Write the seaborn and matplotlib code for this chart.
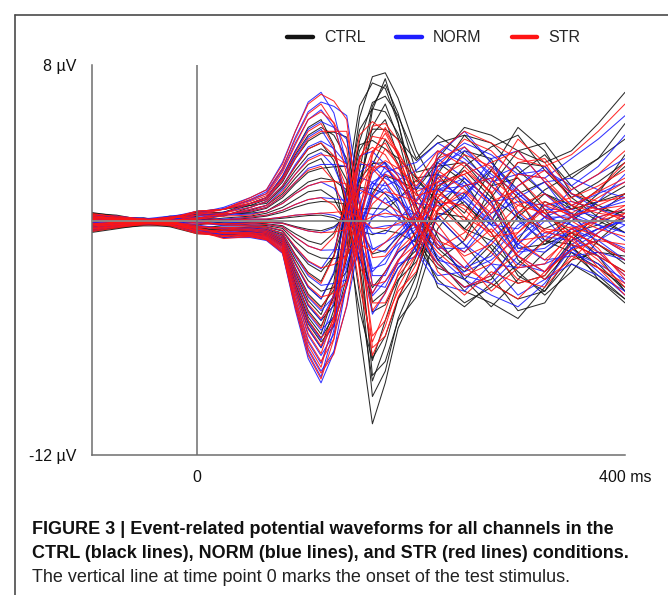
import matplotlib
matplotlib.use("Agg")
import matplotlib.pyplot as plt
from matplotlib.lines import Line2D
import pandas as pd
import seaborn as sns

times_ms = [-100, -75, -50, -25, 0, 25, 50, 65, 80, 92, 104, 116, 128, 140,
            152, 164, 176, 188, 205, 225, 250, 275, 300, 325, 350, 375, 400]

# CTRL condition, one row per channel (uV)
ctrl_uv = [
    [0.35, 0.15, 0.1, 0.15, 0.4, 0.45, 0.9, 1.2, 2.3, 3.6, 4.8, 5.2, 3.9, 0.4, -5.6, -10.4, -8.3, -5.5, -3.4, 0.6, 2.2, 1.0, -2.0, -3.0, -1.4, -2.2, -3.6],
    [-0.25, -0.05, 0.05, 0.1, 0.5, 0.6, 0.9, 1.2, 2.2, 3.4, 4.4, 4.8, 4.4, 3.2, -2.4, -9.0, -7.7, -5.0, -2.8, 1.6, 3.6, 3.2, 0.2, -1.2, -0.6, -1.2, -2.0],
    [0.45, 0.25, 0.05, -0.1, 0.25, 0.45, 0.8, 1.1, 2.0, 3.2, 4.1, 4.5, 4.56, 4.3, -1.0, -7.92, -7.2, -5.1, -3.9, -0.4, 1.4, 2.6, 1.2, -1.0, -1.6, -2.8, -4.0],
    [-0.45, -0.25, -0.15, 0.05, 0.35, 0.25, 0.7, 1.0, 1.8, 2.8, 3.7, 4.0, 3.1, 0.8, -3.8, -8.2, -6.4, -4.0, -1.8, 2.4, 4.4, 4.0, 2.6, 1.4, 0.6, 1.0, 1.4],
    [0.25, 0.2, 0.0, 0.15, 0.45, 0.6, 0.8, 0.9, 1.7, 2.6, 3.4, 3.7, 3.32, 2.1, -2.2, -7.04, -5.9, -4.0, -2.7, 0.4, 0.2, -1.4, -3.2, -2.8, -1.0, -0.4, 0.2],
    [-0.35, 0.0, 0.15, 0.0, 0.0, 0.3, 0.55, 0.8, 1.4, 2.2, 2.9, 3.2, 2.08, -0.9, -4.6, -7.16, -5.1, -3.1, -1.2, 3.2, 4.8, 4.4, 3.6, 3.0, 3.6, 5.0, 6.6],
    [0.15, -0.05, 0.0, 0.2, 0.35, 0.35, 0.45, 0.65, 1.2, 1.9, 2.5, 2.7, 2.78, 2.8, -0.3, -4.66, -4.3, -3.0, -2.1, 0.2, 1.0, -0.6, -2.8, -3.6, -2.0, -1.6, -1.8],
    [0.4, 0.3, 0.05, -0.05, 0.1, 0.35, 0.4, 0.5, 1.0, 1.5, 2.0, 2.2, 2.08, 1.6, -1.0, -4.16, -3.6, -2.4, -1.5, 1.2, 2.8, 3.8, 4.4, 2.6, 1.2, 2.0, 3.0],
    [-0.55, -0.35, -0.15, -0.15, 0.0, 0.15, 0.25, 0.4, 0.7, 1.1, 1.5, 1.6, 1.16, -0.1, -1.9, -3.42, -2.6, -1.6, -0.9, 0.2, -1.2, -2.8, -4.6, -4.2, -2.2, -3.0, -4.0],
    [-0.05, 0.05, 0.0, 0.25, 0.2, 0.05, 0.15, 0.25, 0.45, 0.7, 0.9, 1.0, 0.97, 0.85, -0.25, -1.69, -1.5, -0.8, 0.0, 1.8, 2.6, 1.2, 0.2, -0.4, 0.2, 1.4, 3.4],
    [0.3, 0.1, 0.0, -0.15, 0.1, 0.05, 0.05, 0.07, 0.14, 0.21, 0.28, 0.3, 0.17, -0.16, -0.51, -0.7, -0.48, -0.62, -1.1, -2.4, -3.0, -1.6, 0.2, 1.4, 0.8, 0.0, -0.6],
    [-0.05, -0.25, -0.15, 0.1, 0.0, -0.2, -0.05, -0.06, -0.1, -0.28, -0.43, -0.5, -0.29, 0.25, 0.61, 0.66, 0.6, 1.12, 2.1, 1.0, -0.4, -1.0, 0.4, 1.6, 2.4, 3.2, 4.2],
    [0.2, 0.15, -0.05, -0.2, -0.2, -0.05, -0.1, -0.14, -0.24, -0.66, -1.02, -1.2, -0.62, 0.87, 1.72, 1.66, 1.4, 0.63, -0.9, -2.2, -3.4, -3.0, -1.0, 1.0, 0.4, -1.2, -2.2],
    [-0.4, -0.2, -0.1, 0.05, 0.05, -0.1, -0.2, -0.23, -0.38, -1.05, -1.62, -1.9, -1.93, -1.78, -0.41, 1.43, 2.3, 2.1, 1.6, 3.0, 2.0, 0.0, 2.4, 3.4, 1.8, 0.6, 0.4],
    [0.1, -0.05, 0.1, -0.05, -0.35, -0.25, -0.25, -0.31, -0.52, -1.43, -2.21, -2.6, -1.81, 0.31, 2.14, 2.94, 3.0, 1.61, -1.1, -3.0, -4.2, -3.4, -2.2, -1.0, -1.2, -1.8, -2.6],
    [-0.5, -0.3, -0.2, -0.1, -0.25, -0.45, -0.3, -0.37, -0.62, -1.71, -2.64, -3.1, -1.77, 1.69, 3.91, 4.13, 3.7, 3.22, 2.2, 1.0, -0.4, 1.2, 3.0, 2.8, 1.2, 0.2, -0.6],
    [0.25, 0.2, 0.15, -0.05, -0.35, -0.35, -0.35, -0.43, -0.72, -1.98, -3.06, -3.6, -3.41, -2.59, -0.04, 2.9, 4.2, 2.94, 0.4, -2.0, -3.6, -4.2, -5.0, -3.4, -1.0, 0.4, 1.4],
    [-0.2, -0.1, -0.05, -0.25, -0.35, -0.5, -0.4, -0.48, -0.8, -2.2, -3.4, -4.0, -2.7, 0.78, 3.62, 4.71, 4.7, 4.2, 3.1, 4.0, 4.4, 3.0, 1.6, 0.4, -0.6, -0.2, 0.6],
    [-0.6, -0.4, -0.2, -0.15, -0.45, -0.45, -0.45, -0.53, -0.88, -2.42, -3.74, -4.4, -3.54, -1.06, 2.08, 4.44, 5.2, 3.36, -0.3, -3.4, -4.4, -3.2, -4.0, -3.6, -1.6, -2.4, -3.4],
    [0.15, 0.0, -0.05, -0.2, -0.25, -0.65, -0.5, -0.58, -0.96, -2.64, -4.08, -4.8, -3.13, 1.28, 4.68, 5.76, 5.6, 4.48, 2.2, 2.4, 0.8, -0.2, 1.4, 2.0, 0.6, 1.6, 2.8],
    [-0.3, -0.25, -0.1, 0.1, -0.55, -0.45, -0.5, -0.61, -1.02, -2.81, -4.34, -5.1, -4.32, -1.94, 1.69, 4.84, 6.0, 4.27, 0.8, -1.4, -2.6, -1.2, -2.6, -3.8, -2.6, -1.0, 0.2],
    [0.35, 0.2, 0.1, -0.15, -0.4, -0.6, -0.55, -0.65, -1.08, -2.97, -4.59, -5.4, -3.89, 0.24, 4.1, 6.08, 6.4, 5.39, 3.2, 4.4, 3.4, 1.8, 3.6, 4.0, 2.2, 3.2, 5.0],
    [-0.45, -0.35, -0.25, -0.25, -0.6, -0.75, -0.6, -0.7, -1.16, -3.19, -4.93, -5.8, -3.72, 1.78, 5.9, 7.08, 6.8, 5.04, 1.5, -0.8, -3.0, -4.4, -3.0, -1.6, -0.6, -1.8, -3.6],
    [0.05, 0.0, -0.05, -0.1, -0.55, -0.7, -0.6, -0.72, -1.2, -3.3, -5.1, -6.0, -4.89, -1.65, 2.6, 5.9, 7.0, 5.53, 2.5, 2.8, 3.0, 1.4, -1.4, -1.2, 0.0, 1.0, 1.8],
    [-0.25, -0.15, -0.15, -0.3, -0.65, -0.7, -0.6, -0.74, -1.24, -3.41, -5.27, -6.2, -5.4, -2.85, 1.56, 5.69, 7.3, 5.11, 0.7, -2.0, -1.0, 1.8, 2.2, 0.6, -1.2, -3.0, -4.2],
    [0.2, 0.05, 0.0, -0.25, -0.5, -0.85, -0.65, -0.78, -1.3, -3.58, -5.53, -6.5, -4.55, 0.7, 5.31, 7.4, 7.6, 6.3, 3.6, 1.6, 0.4, 2.6, 4.8, 3.6, 1.4, 0.8, 0.2],
]

# NORM condition
norm_uv = [
    [0.2, 0.15, 0.0, 0.05, 0.4, 0.7, 1.2, 1.6, 3.0, 4.6, 6.1, 6.6, 5.54, 2.9, -1.5, -4.78, -3.7, -2.4, -1.3, 1.6, 2.2, 1.0, -1.4, -1.6, -0.4, -1.0, -2.0],
    [-0.1, 0.0, 0.05, 0.2, 0.5, 0.6, 1.1, 1.5, 2.7, 4.3, 5.6, 6.1, 5.88, 5.4, 1.3, -3.26, -3.4, -2.0, -0.8, 2.6, 3.8, 2.2, 0.0, -1.0, 0.2, -0.2, -0.6],
    [0.3, 0.25, 0.1, 0.0, 0.3, 0.65, 1.05, 1.4, 2.6, 4.0, 5.2, 5.7, 4.82, 2.9, -0.8, -3.84, -3.1, -2.2, -1.8, 0.2, 1.2, 2.8, 1.6, 0.2, -1.4, -2.6, -3.8],
    [-0.35, -0.15, -0.05, 0.05, 0.3, 0.4, 0.9, 1.2, 2.3, 3.6, 4.7, 5.1, 4.8, 4.2, 0.8, -2.8, -2.8, -1.4, 0.1, 3.4, 4.6, 3.0, 1.4, 0.2, 0.8, 1.4, 2.0],
    [0.15, 0.1, 0.1, 0.25, 0.4, 0.6, 0.9, 1.1, 2.1, 3.3, 4.3, 4.7, 3.66, 1.1, -2.0, -3.72, -2.6, -1.6, -0.9, 1.6, 1.4, -0.2, -1.8, -2.6, -1.2, -0.4, 0.0],
    [-0.25, -0.1, 0.05, 0.1, 0.1, 0.45, 0.7, 1.0, 1.8, 2.9, 3.8, 4.1, 3.72, 2.9, 0.2, -2.44, -2.2, -1.0, 0.3, 3.0, 4.0, 3.4, 2.4, 2.2, 3.2, 4.2, 5.4],
    [0.05, -0.15, -0.1, 0.1, 0.3, 0.3, 0.6, 0.8, 1.6, 2.4, 3.2, 3.5, 2.8, 1.2, -1.15, -2.6, -1.9, -1.2, -0.4, 1.0, 2.0, 0.8, -1.2, -2.0, -1.8, -1.6, -2.0],
    [0.3, 0.2, 0.15, 0.05, 0.2, 0.3, 0.5, 0.7, 1.3, 2.0, 2.7, 2.9, 2.9, 2.8, 0.87, -1.4, -1.6, -0.7, 0.4, 2.4, 1.8, 2.2, 2.8, 1.4, 0.2, 0.6, 1.0],
    [-0.45, -0.25, -0.05, -0.05, 0.1, 0.3, 0.35, 0.5, 0.9, 1.4, 1.8, 2.0, 1.68, 0.8, -0.5, -1.46, -1.1, -0.7, -0.3, 0.2, -1.2, -2.2, -3.8, -3.0, -2.2, -2.8, -3.6],
    [0.05, 0.15, 0.1, 0.15, 0.1, 0.1, 0.2, 0.3, 0.55, 0.85, 1.1, 1.2, 1.14, 1.05, 0.3, -0.63, -0.65, 0.05, 1.1, 2.8, 3.6, 2.4, 1.4, 0.2, 0.2, 1.0, 2.4],
    [0.2, 0.0, -0.1, -0.05, 0.0, 0.05, 0.1, 0.1, 0.2, 0.3, 0.35, 0.4, 0.29, 0.05, -0.2, -0.38, -0.25, -0.2, -0.2, -1.2, -2.4, -1.8, -0.2, 0.6, 0.6, 0.2, -0.2],
    [-0.15, -0.15, -0.05, 0.0, -0.1, -0.1, -0.05, -0.07, -0.12, -0.33, -0.51, -0.6, -0.35, 0.21, 0.46, 0.34, 0.2, 0.28, 0.4, 2.0, 1.2, 0.0, -1.2, 0.2, 1.6, 2.4, 3.2],
    [0.1, 0.05, 0.05, -0.1, -0.1, -0.2, -0.15, -0.18, -0.3, -0.83, -1.28, -1.5, -1.48, -1.45, -0.79, 0.14, 0.6, 0.14, -0.7, -2.2, -3.4, -2.8, -1.2, 0.0, 0.4, -0.2, -1.0],
    [-0.3, -0.1, 0.0, 0.05, -0.05, -0.25, -0.25, -0.29, -0.49, -1.35, -2.08, -2.45, -1.51, 0.65, 1.69, 1.37, 0.9, 1.19, 1.7, 3.2, 2.2, 1.0, 1.2, 2.0, 2.2, 1.6, 1.2],
    [0.0, 0.05, 0.0, -0.15, -0.3, -0.4, -0.35, -0.4, -0.66, -1.82, -2.81, -3.3, -3.2, -3.02, -1.61, 0.28, 1.2, 0.28, -1.5, -2.8, -2.6, -2.0, -0.8, 0.2, -0.2, -0.8, -1.4],
    [-0.4, -0.2, -0.1, 0.0, -0.2, -0.4, -0.4, -0.48, -0.8, -2.2, -3.4, -4.0, -2.62, 0.55, 2.24, 1.98, 1.4, 1.05, 0.3, -0.6, -1.6, 0.0, 1.8, 2.8, 1.4, 0.6, 0.2],
    [0.15, 0.1, 0.05, 0.05, -0.3, -0.35, -0.45, -0.55, -0.92, -2.53, -3.91, -4.6, -3.87, -2.21, -0.24, 1.21, 1.7, 1.05, -0.2, -1.8, -3.0, -3.8, -4.4, -3.2, -1.4, -0.6, 0.2],
    [-0.1, 0.0, 0.05, -0.15, -0.5, -0.55, -0.5, -0.61, -1.02, -2.81, -4.34, -5.1, -3.79, -0.79, 1.37, 1.94, 1.8, 2.1, 2.6, 3.6, 3.0, 1.8, 0.4, -0.8, -1.0, -0.4, 0.0],
    [-0.5, -0.3, -0.1, -0.05, -0.4, -0.65, -0.55, -0.67, -1.12, -3.08, -4.76, -5.6, -4.9, -3.34, -0.96, 1.16, 2.0, 0.77, -1.6, -3.2, -3.6, -2.2, -2.4, -2.2, -1.6, -2.2, -3.0],
    [0.05, -0.1, -0.15, -0.1, -0.4, -0.6, -0.6, -0.73, -1.22, -3.36, -5.19, -6.1, -4.15, 0.31, 2.91, 2.86, 2.2, 1.82, 1.0, 2.2, 1.0, -0.2, -0.4, 0.8, 1.0, 0.6, 1.2],
    [-0.2, -0.15, 0.0, 0.0, -0.5, -0.65, -0.65, -0.78, -1.3, -3.58, -5.53, -6.5, -5.25, -2.4, 0.39, 2.0, 2.4, 1.47, -0.4, -2.0, -2.4, -1.0, -2.2, -2.6, -1.4, -1.0, -0.2],
    [0.25, 0.1, 0.0, -0.05, -0.4, -0.6, -0.7, -0.83, -1.38, -3.8, -5.87, -6.9, -5.8, -3.33, -0.39, 1.77, 2.5, 2.73, 3.0, 4.0, 3.2, 2.0, 2.4, 2.6, 1.8, 2.8, 4.4],
    [-0.35, -0.25, -0.15, -0.15, -0.55, -0.75, -0.75, -0.88, -1.46, -4.02, -6.21, -7.3, -5.28, -0.64, 2.49, 3.07, 2.7, 2.03, 0.7, -1.0, -2.8, -3.2, -1.8, -0.6, -0.8, -1.8, -3.2],
    [0.05, 0.1, 0.05, 0.0, -0.5, -0.7, -0.75, -0.92, -1.54, -4.24, -6.55, -7.7, -6.68, -4.38, -1.09, 1.72, 2.8, 2.45, 1.7, 1.6, 1.8, 0.2, -1.6, -1.4, -0.4, 0.2, 0.6],
    [-0.15, -0.05, -0.05, -0.2, -0.6, -0.75, -0.8, -0.96, -1.6, -4.4, -6.8, -8.0, -5.59, -0.07, 3.34, 3.57, 2.9, 1.82, -0.3, -1.4, -1.4, 0.4, 1.0, 0.8, -0.2, -1.6, -2.8],
    [0.1, -0.05, -0.1, -0.15, -0.5, -0.85, -0.85, -1.0, -1.66, -4.57, -7.06, -8.3, -6.73, -3.17, 0.37, 2.46, 3.0, 2.31, 0.9, 0.8, 1.2, 3.2, 3.6, 2.0, 0.2, -0.8, -1.6],
]

# STR condition
str_uv = [
    [0.3, 0.1, 0.05, 0.1, 0.5, 0.6, 1.2, 1.6, 2.9, 4.6, 6.0, 6.5, 6.15, 5.2, -0.3, -6.5, -5.9, -3.9, -2.2, 1.2, 2.6, 1.5, -1.0, -2.0, -0.8, -1.6, -2.8],
    [-0.2, -0.1, 0.0, 0.15, 0.5, 0.6, 1.1, 1.4, 2.7, 4.2, 5.5, 6.0, 5.0, 2.4, -2.6, -6.9, -5.4, -3.4, -1.7, 2.0, 3.4, 2.8, 0.5, -0.6, -0.3, -0.8, -1.5],
    [0.4, 0.2, 0.1, -0.05, 0.3, 0.6, 1.0, 1.3, 2.5, 3.9, 5.2, 5.6, 5.05, 3.7, -1.0, -5.9, -5.1, -3.6, -2.6, 0.5, 1.8, 2.2, 1.0, -0.5, -1.0, -2.0, -3.4],
    [-0.4, -0.2, -0.1, 0.1, 0.4, 0.4, 0.9, 1.2, 2.2, 3.5, 4.6, 5.0, 3.8, 0.8, -3.4, -6.2, -4.6, -2.7, -1.1, 2.8, 4.2, 3.6, 2.2, 0.8, 0.3, 0.6, 0.8],
    [0.2, 0.15, 0.05, 0.2, 0.4, 0.6, 0.9, 1.1, 2.1, 3.2, 4.2, 4.6, 4.6, 4.6, 0.8, -4.2, -4.2, -2.8, -1.7, 1.0, 0.8, -0.6, -2.4, -2.2, -0.6, 0.2, 0.6],
    [-0.3, -0.05, 0.1, 0.05, 0.1, 0.4, 0.7, 1.0, 1.8, 2.8, 3.7, 4.0, 3.35, 1.7, -1.6, -4.6, -3.7, -2.1, -0.5, 3.5, 4.6, 4.0, 3.2, 2.8, 3.4, 4.6, 6.0],
    [0.1, -0.1, -0.05, 0.15, 0.3, 0.3, 0.6, 0.8, 1.5, 2.4, 3.1, 3.4, 3.3, 2.9, 0.1, -3.3, -3.1, -2.0, -1.2, 0.6, 1.5, 0.2, -1.8, -2.6, -1.5, -1.0, -1.2],
    [0.35, 0.25, 0.1, 0.0, 0.15, 0.35, 0.5, 0.7, 1.3, 2.0, 2.6, 2.8, 2.05, 0.1, -2.3, -3.7, -2.6, -1.5, -0.6, 1.8, 2.4, 3.0, 3.6, 2.0, 0.8, 1.5, 2.2],
    [-0.5, -0.3, -0.1, -0.1, 0.1, 0.25, 0.3, 0.5, 0.9, 1.4, 1.8, 2.0, 2.04, 1.9, 0.2, -1.88, -1.8, -1.0, 0.0, 0.8, -0.5, -1.6, -3.0, -3.4, -1.8, -2.4, -3.2],
    [0.0, 0.1, 0.05, 0.2, 0.15, 0.05, 0.2, 0.3, 0.55, 0.85, 1.1, 1.2, 0.81, -0.1, -1.15, -1.62, -1.1, -0.45, 0.4, 2.2, 3.0, 1.8, 0.8, 0.4, 0.6, 1.6, 3.0],
    [0.25, 0.05, -0.05, -0.1, 0.05, 0.0, 0.1, 0.1, 0.2, 0.3, 0.35, 0.4, 0.44, 0.52, 0.17, -0.36, -0.4, -0.12, 0.2, -0.6, -1.8, -1.2, 0.4, 1.0, 0.2, -0.4, -0.8],
    [-0.1, -0.2, -0.1, 0.05, -0.1, -0.15, -0.1, -0.07, -0.12, -0.33, -0.51, -0.6, -0.56, -0.44, -0.12, 0.24, 0.4, 0.28, 0.0, 1.4, 0.6, -0.8, -0.6, 0.8, 1.2, 1.8, 2.6],
    [0.15, 0.1, 0.0, -0.15, -0.15, -0.15, -0.15, -0.18, -0.3, -0.83, -1.28, -1.5, -0.81, 0.83, 1.59, 1.29, 0.9, 0.49, -0.3, -1.6, -2.8, -2.2, -0.6, 0.6, 0.0, -0.8, -1.6],
    [-0.35, -0.15, -0.05, 0.0, 0.0, -0.2, -0.25, -0.29, -0.48, -1.32, -2.04, -2.4, -2.23, -1.78, -0.54, 0.87, 1.5, 1.33, 1.0, 2.6, 1.6, 0.4, 1.8, 2.6, 1.4, 1.0, 1.2],
    [0.05, 0.0, 0.05, -0.1, -0.3, -0.35, -0.3, -0.38, -0.64, -1.76, -2.72, -3.2, -1.84, 1.42, 3.08, 2.68, 2.0, 1.19, -0.4, -2.2, -3.4, -2.8, -1.6, -0.4, -0.6, -1.2, -2.0],
    [-0.45, -0.25, -0.15, -0.05, -0.25, -0.45, -0.4, -0.47, -0.78, -2.15, -3.32, -3.9, -3.71, -3.16, -1.15, 1.28, 2.4, 2.1, 1.4, 0.4, -1.0, 0.6, 2.4, 2.2, 0.8, 0.4, 0.2],
    [0.2, 0.15, 0.1, 0.0, -0.35, -0.35, -0.45, -0.54, -0.9, -2.48, -3.83, -4.5, -3.34, -0.5, 1.83, 2.76, 2.8, 2.1, 0.7, -1.2, -2.4, -3.2, -4.0, -2.6, -0.8, 0.0, 0.8],
    [-0.15, -0.05, 0.0, -0.2, -0.45, -0.5, -0.5, -0.6, -1.0, -2.75, -4.25, -5.0, -4.09, -1.82, 0.76, 2.55, 3.1, 2.7, 1.8, 3.2, 3.8, 2.6, 1.2, 0.2, -0.4, 0.0, 0.4],
    [-0.55, -0.35, -0.15, -0.1, -0.4, -0.6, -0.6, -0.66, -1.1, -3.03, -4.68, -5.5, -3.76, 0.45, 3.29, 3.78, 3.4, 2.31, 0.1, -2.6, -3.8, -2.6, -3.2, -2.8, -1.2, -1.8, -2.6],
    [0.1, -0.05, -0.1, -0.15, -0.35, -0.65, -0.6, -0.72, -1.2, -3.3, -5.1, -6.0, -5.23, -3.27, -0.18, 2.61, 3.7, 2.91, 1.3, 1.6, 0.2, -0.6, 0.8, 1.4, 0.4, 1.2, 2.0],
    [-0.25, -0.2, -0.05, 0.05, -0.55, -0.6, -0.65, -0.77, -1.28, -3.52, -5.44, -6.4, -5.0, -1.56, 1.76, 3.6, 4.0, 2.8, 0.4, -1.0, -1.6, -0.4, -1.8, -3.0, -2.0, -0.6, 0.4],
    [0.3, 0.15, 0.05, -0.1, -0.4, -0.65, -0.7, -0.82, -1.36, -3.74, -5.78, -6.8, -4.89, -0.27, 3.24, 4.34, 4.2, 3.5, 2.0, 3.6, 2.8, 1.4, 3.0, 3.2, 1.6, 2.4, 3.6],
    [-0.4, -0.3, -0.2, -0.2, -0.6, -0.8, -0.7, -0.86, -1.44, -3.96, -6.12, -7.2, -6.04, -3.15, 0.58, 3.49, 4.5, 3.36, 1.0, -0.2, -2.0, -3.6, -2.4, -1.0, -0.4, -1.4, -3.0],
    [0.0, 0.05, 0.0, -0.05, -0.55, -0.75, -0.75, -0.9, -1.5, -4.13, -6.38, -7.5, -5.14, 0.55, 4.41, 5.1, 4.6, 3.57, 1.5, 2.0, 2.4, 0.8, -1.0, -0.8, 0.2, 0.8, 1.4],
    [-0.2, -0.1, -0.1, -0.25, -0.65, -0.75, -0.8, -0.94, -1.56, -4.29, -6.63, -7.8, -6.82, -4.32, -0.3, 3.36, 4.8, 3.43, 0.7, -1.4, -0.6, 1.0, 1.6, 0.4, -0.8, -2.4, -3.8],
    [0.15, 0.0, -0.05, -0.2, -0.5, -0.9, -0.8, -0.97, -1.62, -4.46, -6.89, -8.1, -6.06, -1.09, 3.09, 4.86, 5.0, 4.13, 2.3, 1.2, 0.0, 2.0, 4.2, 3.0, 1.0, 0.6, 0.0],
]

conditions = ["CTRL", "NORM", "STR"]
palette = {"CTRL": "#141414", "NORM": "#1e1eff", "STR": "#ff1414"}

caption_bold = [
    "FIGURE 3 | Event-related potential waveforms for all channels in the",
    "CTRL (black lines), NORM (blue lines), and STR (red lines) conditions.",
]
caption_plain = "The vertical line at time point 0 marks the onset of the test stimulus."

## long table for seaborn
rows = []
for cond, waves in zip(conditions, [ctrl_uv, norm_uv, str_uv]):
    for ch, wave in enumerate(waves):
        for t, v in zip(times_ms, wave, strict=True):
            rows.append((cond, ch, t, v))
df = pd.DataFrame(rows, columns=["condition", "channel", "time", "uv"])

sns.set_style("white")
plt.rcParams["font.family"] = ["Liberation Sans", "DejaVu Sans"]

fig = plt.figure(figsize=(6.68, 5.95), dpi=100)
ax = fig.add_axes([92 / 668, 1 - 455 / 595, 533 / 668, 390 / 595])

sns.lineplot(data=df, x="time", y="uv", hue="condition", units="channel",
             estimator=None, hue_order=conditions, palette=palette,
             lw=0.75, alpha=0.9, legend=False, ax=ax)

axis_grey = "#6e6e6e"
ax.axhline(0, color="#8a8a8a", lw=1.3, zorder=5)
ax.axvline(0, color=axis_grey, lw=1.1, zorder=5)

ax.set_xlim(-98, 400)
ax.set_ylim(-12, 8)
ax.set_xticks([0, 100, 200, 300, 400])
ax.set_xticklabels(["0", "", "", "", "400 ms"])
ax.set_yticks([-12, -8, -4, 0, 4, 8])
ax.set_yticklabels(["-12 \u00b5V", "", "", "", "", "8 \u00b5V"])
ax.set_xlabel("")
ax.set_ylabel("")
ax.tick_params(direction="in", length=4, width=1, color=axis_grey,
               labelsize=11.5, labelcolor="#111111")
ax.tick_params(axis="y", pad=11)
ax.tick_params(axis="x", pad=11)
for side in ["top", "right"]:
    ax.spines[side].set_visible(False)
for side in ["left", "bottom"]:
    ax.spines[side].set_color(axis_grey)
    ax.spines[side].set_linewidth(1.1)

# legend across the top
handles = [Line2D([0], [0], color=palette[c], lw=3.2) for c in conditions]
fig.legend(handles, conditions, loc="center", bbox_to_anchor=(434 / 668, 1 - 38 / 595),
           ncol=3, frameon=False, fontsize=11.5, handlelength=1.6,
           handletextpad=0.7, columnspacing=1.9)

# page frame (left and top edges)
frame_x = 15 / 668
frame_y = 1 - 15 / 595
fig.add_artist(Line2D([frame_x, frame_x], [0, frame_y], transform=fig.transFigure,
                      color="#4a4a4a", lw=1.2))
fig.add_artist(Line2D([frame_x, 1], [frame_y, frame_y], transform=fig.transFigure,
                      color="#4a4a4a", lw=1.2))

# caption
cap_font = ["Liberation Sans Narrow", "Liberation Sans", "DejaVu Sans"]
fig.text(32 / 668, 1 - 530 / 595, caption_bold[0], fontsize=13, fontweight="bold",
         family=cap_font, va="center", color="#111111")
fig.text(32 / 668, 1 - 553 / 595, caption_bold[1], fontsize=13, fontweight="bold",
         family=cap_font, va="center", color="#111111")
fig.text(32 / 668, 1 - 577 / 595, caption_plain, fontsize=13,
         family=cap_font, va="center", color="#222222")

fig.savefig("out.png", dpi=100)
